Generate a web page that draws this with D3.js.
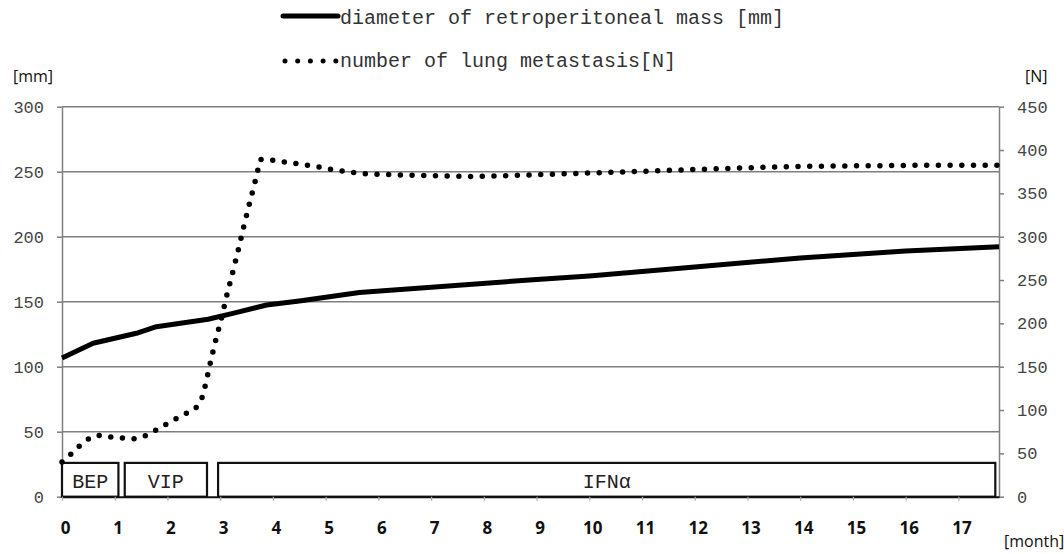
<!DOCTYPE html>
<html>
<head>
<meta charset="utf-8">
<script src="https://cdn.jsdelivr.net/npm/d3@7"></script>
<style>
  html, body { margin: 0; padding: 0; background: #fff; }
  svg { display: block; }
</style>
</head>
<body>
<svg id="chart" width="1064" height="554"></svg>
<script>
// ---- data ----
const monthTicks = d3.range(0, 18);
const leftTicks = [0, 50, 100, 150, 200, 250, 300];
const rightTicks = [0, 50, 100, 150, 200, 250, 300, 350, 400, 450];

// diameter of retroperitoneal mass [mm]
const massMonths = [0, 0.59, 1.41, 1.79, 2.77, 3.24, 3.88, 4.5, 5.64, 8.86, 10, 12, 14, 16, 17.77];
const massValues = [106.7, 118, 125.7, 130.8, 136.5, 141, 147.5, 150.5, 157, 166.7, 169.8, 176.7, 183.6, 189, 192.3];

// number of lung metastasis [N]
const metaMonths = [0, 0.15, 0.32, 0.48, 0.65, 0.87, 1.1, 1.33, 1.54, 1.73, 1.93, 2.12, 2.32, 2.52, 2.64, 2.70, 2.75, 2.80, 2.85, 2.90, 2.96, 3.02, 3.12, 3.23, 3.34, 3.44, 3.55, 3.66, 3.76, 3.97, 4.19, 4.41, 4.63, 4.85, 5.08, 5.30, 5.52, 5.8, 6.5, 7.3, 7.7, 8.5, 9.5, 10.5, 11.5, 12.5, 13.5, 14.5, 15.5, 16.5, 17.77];
const metaValues = [40, 48, 58, 66, 71, 69, 68, 66.5, 69, 75, 82, 88.5, 95, 101, 111, 124, 137, 151, 164, 177, 191, 205, 231, 257, 284, 310, 337, 363, 389, 388.5, 386.5, 384.6, 382.7, 380.8, 378, 376, 374, 372.5, 371, 370, 369.5, 370.5, 372.5, 374.5, 376.5, 378.5, 380.5, 381.5, 382, 382.5, 382.5];

// treatment periods
const therapyNames = ["BEP", "VIP", "IFNα"];
const therapyStart = [0, 1.19, 2.96];
const therapyEnd = [1.07, 2.75, 17.7];
const therapyHeight = 26; // in mm units

const legendLabels = ["diameter of retroperitoneal mass [mm]", "number of lung metastasis[N]"];

// ---- scales ----
const svg = d3.select("#chart");
const x = d3.scaleLinear().domain([0, 17.77]).range([62, 999]);
const yL = d3.scaleLinear().domain([0, 300]).range([496.7, 106.7]);
const yR = d3.scaleLinear().domain([0, 450]).range([496.7, 106.7]);

const mono = "'Liberation Mono', 'Courier New', monospace";
const sans = "'Open Sans', 'Noto Sans', sans-serif";

// gridlines
svg.append("g").selectAll("line")
  .data(leftTicks.filter(d => d > 0))
  .join("line")
  .attr("x1", x(0)).attr("x2", x.range()[1])
  .attr("y1", d => yL(d)).attr("y2", d => yL(d))
  .attr("stroke", "#7f7f7f").attr("stroke-width", 1.5);

// left axis
const gL = svg.append("g").attr("transform", `translate(${x(0)},0)`)
  .call(d3.axisLeft(yL).tickValues(leftTicks).tickSize(5).tickPadding(13).tickSizeOuter(0));
gL.select(".domain").attr("stroke", "#7f7f7f").attr("stroke-width", 1.5);
gL.selectAll(".tick line").attr("stroke", "#7f7f7f").attr("stroke-width", 1.5);
gL.selectAll(".tick text").attr("font-family", mono).attr("font-size", 17).attr("fill", "#444");

// right axis
const gR = svg.append("g").attr("transform", `translate(${x.range()[1]},0)`)
  .call(d3.axisRight(yR).tickValues(rightTicks).tickSize(5).tickPadding(13).tickSizeOuter(0));
gR.select(".domain").attr("stroke", "#7f7f7f").attr("stroke-width", 1.5);
gR.selectAll(".tick line").attr("stroke", "#7f7f7f").attr("stroke-width", 1.5);
gR.selectAll(".tick text").attr("font-family", mono).attr("font-size", 17).attr("fill", "#444");

// treatment boxes
const boxes = svg.append("g");
therapyNames.forEach((name, i) => {
  boxes.append("rect")
    .attr("x", x(therapyStart[i])).attr("y", yL(therapyHeight))
    .attr("width", x(therapyEnd[i]) - x(therapyStart[i]))
    .attr("height", yL(0) - yL(therapyHeight))
    .attr("fill", "#fff").attr("stroke", "#111").attr("stroke-width", 2.2);
  boxes.append("text")
    .attr("x", (x(therapyStart[i]) + x(therapyEnd[i])) / 2)
    .attr("y", 488)
    .attr("text-anchor", "middle")
    .attr("font-family", mono).attr("font-size", 20).attr("fill", "#222")
    .text(name);
});

// bottom axis
const gB = svg.append("g").attr("transform", `translate(0,${yL(0)})`)
  .call(d3.axisBottom(x).tickValues(monthTicks).tickSize(4).tickPadding(0).tickSizeOuter(0).tickFormat(d3.format("d")));
gB.select(".domain").attr("stroke", "#111").attr("stroke-width", 2);
gB.selectAll(".tick line").attr("stroke", "#aaa").attr("stroke-width", 1.2);
gB.selectAll(".tick text")
  .attr("font-family", sans).attr("font-weight", "bold").attr("font-size", 17).attr("fill", "#111")
  .attr("y", 534 - yL(0)).attr("dy", 0).attr("dx", 3);

// unit labels
svg.append("text").attr("x", 13).attr("y", 82).attr("font-family", sans).attr("font-size", 16).attr("fill", "#111").text("[mm]");
svg.append("text").attr("x", 1025).attr("y", 82).attr("font-family", sans).attr("font-size", 16).attr("fill", "#111").text("[N]");
svg.append("text").attr("x", 1004).attr("y", 547).attr("font-family", sans).attr("font-size", 16).attr("fill", "#111").text("[month]");

// lines
const massData = massMonths.map((m, i) => [m, massValues[i]]);
const metaData = metaMonths.map((m, i) => [m, metaValues[i]]);

svg.append("path")
  .datum(metaData)
  .attr("d", d3.line().x(d => x(d[0])).y(d => yR(d[1])))
  .attr("fill", "none").attr("stroke", "#000").attr("stroke-width", 5.5)
  .attr("stroke-linecap", "round").attr("stroke-dasharray", "0 11.7");

svg.append("path")
  .datum(massData)
  .attr("d", d3.line().x(d => x(d[0])).y(d => yL(d[1])))
  .attr("fill", "none").attr("stroke", "#000").attr("stroke-width", 5)
  .attr("stroke-linejoin", "round");

// legend
const lg = svg.append("g");
lg.append("line").attr("x1", 283).attr("x2", 338).attr("y1", 16).attr("y2", 16)
  .attr("stroke", "#000").attr("stroke-width", 5).attr("stroke-linecap", "round");
lg.append("text").attr("x", 340).attr("y", 24).attr("font-family", mono).attr("font-size", 20).attr("fill", "#333").text(legendLabels[0]);
lg.append("line").attr("x1", 285).attr("x2", 338).attr("y1", 61).attr("y2", 61)
  .attr("stroke", "#000").attr("stroke-width", 5).attr("stroke-linecap", "round").attr("stroke-dasharray", "0 12.7");
lg.append("text").attr("x", 340).attr("y", 67).attr("font-family", mono).attr("font-size", 20).attr("fill", "#333").text(legendLabels[1]);
</script>
</body>
</html>
